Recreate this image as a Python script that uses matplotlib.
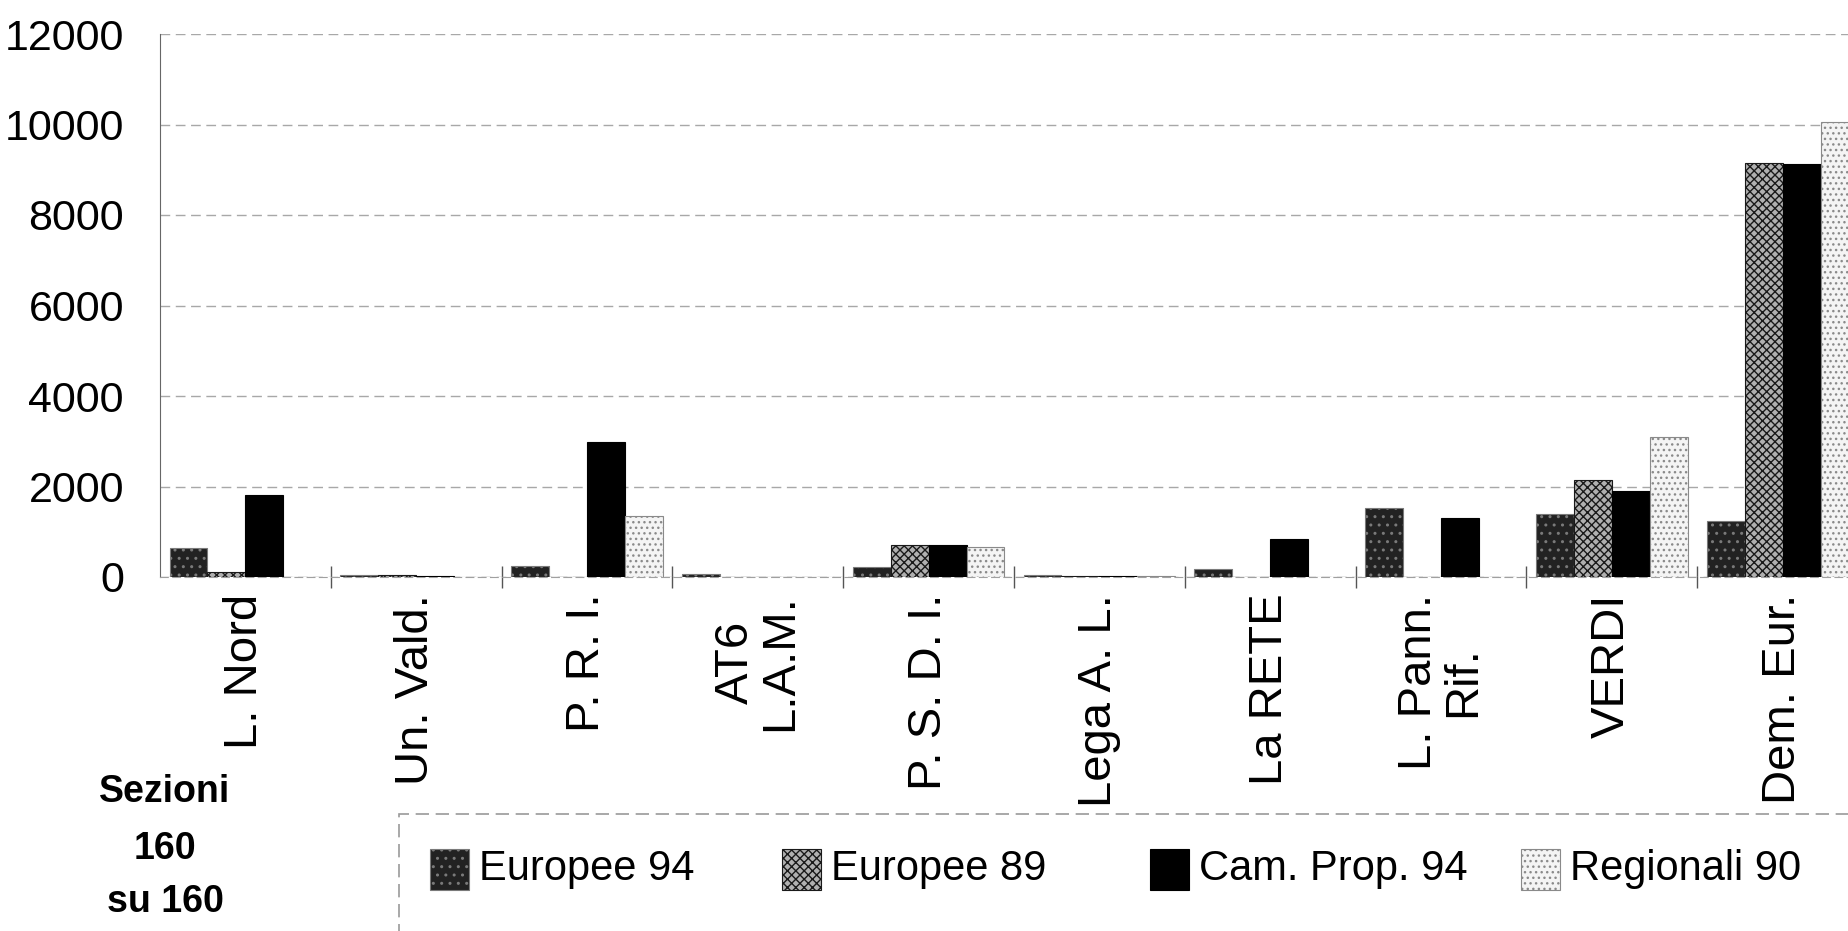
import matplotlib
matplotlib.use('Agg')
import matplotlib.pyplot as plt
from matplotlib.patches import Rectangle
import numpy as np

# values
categories = ['L. Nord', 'Un. Vald.', 'P. R. I.', 'AT6\nL.A.M.', 'P. S. D. I.',
              'Lega A. L.', 'La RETE', 'L. Pann.\nRif.', 'VERDI', 'Dem. Eur.']
europee_94 = [640, 55, 235, 70, 215, 40, 180, 1535, 1400, 1240]
europee_89 = [105, 35, 0, 0, 715, 15, 0, 0, 2145, 9140]
camera_94 = [1810, 15, 2975, 5, 700, 15, 830, 1300, 1905, 9120]
regionali_90 = [0, 10, 1340, 5, 655, 15, 0, 0, 3090, 10050]
series_names = ['Europee 94', 'Europee 89', 'Cam. Prop. 94', 'Regionali 90']
y_ticks = [0, 2000, 4000, 6000, 8000, 10000, 12000]

plt.rcParams['font.family'] = ['Liberation Sans', 'DejaVu Sans']
plt.rcParams['hatch.linewidth'] = 1.0

W, H = 1849, 931
fig = plt.figure(figsize=(W / 100, H / 100), dpi=100)
fig.patch.set_facecolor('white')

# axes runs a bit past the right edge, like the cropped scan
ax = fig.add_axes([160 / W, 1 - 577 / H, 1708 / W, 543 / H])

styles = [
    dict(color='#222222', edgecolor='#7a7a7a', hatch='..'),
    dict(color='#b0b0b0', edgecolor='#1a1a1a', hatch='xxxx'),
    dict(color='black', edgecolor='black', hatch=None),
    dict(color='#f4f4f4', edgecolor='#8a8a8a', hatch='...'),
]
data = [europee_94, europee_89, camera_94, regionali_90]

x = np.arange(len(categories))
bw = 0.222
for k, (vals, st) in enumerate(zip(data, styles)):
    ax.bar(x + (k - 1.5) * bw, vals, bw, color=st['color'], edgecolor=st['edgecolor'],
           hatch=st['hatch'], linewidth=0.8, zorder=3)

ax.set_xlim(-0.5, len(categories) - 0.5)
ax.set_ylim(0, 12000)
ax.set_yticks(y_ticks)
ax.set_yticklabels([str(v) for v in y_ticks], fontsize=31)
ax.tick_params(axis='y', length=0, pad=26)

ax.set_xticks(x)
ax.set_xticklabels(categories, rotation=90, fontsize=34, va='top', ha='center',
                   multialignment='center', linespacing=1.0)
ax.tick_params(axis='x', which='major', length=0, pad=12)
ax.set_xticks(np.arange(0.5, len(categories) - 0.5, 1), minor=True)
ax.tick_params(axis='x', which='minor', length=16, width=1, direction='inout', color='#555555')

ax.grid(axis='y', color='#a8a8a8', linestyle=(0, (7, 4)), linewidth=1.0, zorder=0)
for s in ['top', 'right']:
    ax.spines[s].set_visible(False)
ax.spines['left'].set_color('#666666')
ax.spines['bottom'].set_color('#a0a0a0')
ax.spines['bottom'].set_linestyle((0, (7, 4)))

# note on the left
fig.text(165 / W, 1 - 792 / H, 'Sezioni', fontsize=27, fontweight='bold', ha='center', va='center')
fig.text(165 / W, 1 - 849 / H, '160', fontsize=27, fontweight='bold', ha='center', va='center')
fig.text(165 / W, 1 - 902 / H, 'su 160', fontsize=27, fontweight='bold', ha='center', va='center')

# legend box, cut by the figure edge
box = Rectangle((399 / W, -0.05), 1.0, 0.05 + 1 - 814 / H, transform=fig.transFigure,
                fill=False, edgecolor='#9a9a9a', linewidth=1.2, linestyle=(0, (8, 4)))
fig.add_artist(box)

leg_x = [430, 782, 1150, 1521]
for px, name, st in zip(leg_x, series_names, styles):
    fig.add_artist(Rectangle((px / W, 1 - 890 / H), 39 / W, 41 / H, transform=fig.transFigure,
                             facecolor=st['color'], edgecolor=st['edgecolor'], hatch=st['hatch'],
                             linewidth=0.8))
    fig.text((px + 49) / W, 1 - 869 / H, name, fontsize=30, ha='left', va='center')

fig.savefig('out.png', dpi=100)
